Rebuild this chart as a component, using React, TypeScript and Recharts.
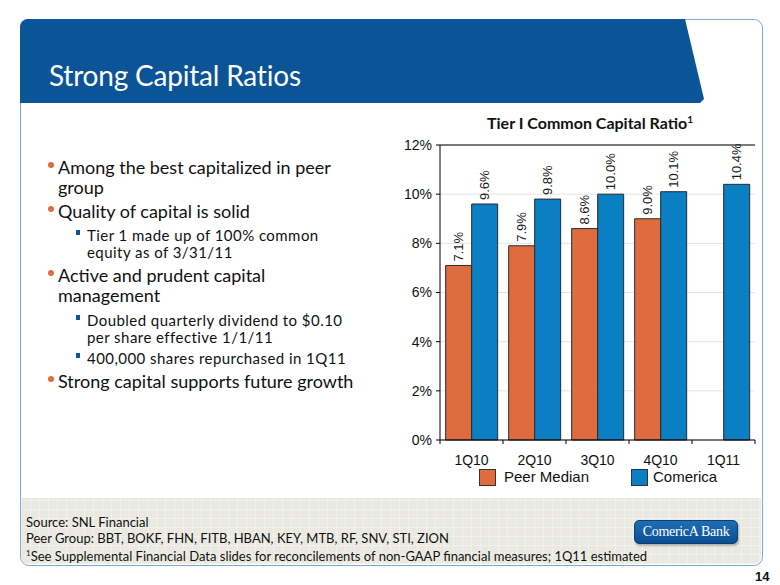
import React from "react";
import { BarChart, Bar, XAxis, YAxis, CartesianGrid, Legend, LabelList, ReferenceLine } from "recharts";

const QUARTERS = ["1Q10", "2Q10", "3Q10", "4Q10", "1Q11"];
const PEER_MEDIAN = [7.1, 7.9, 8.6, 9.0, null];
const COMERICA = [9.6, 9.8, 10.0, 10.1, 10.4];
const Y_TICKS = [0, 2, 4, 6, 8, 10, 12];

const PEER_COLOR = "#DF6C3E";
const COMERICA_COLOR = "#0A7FC3";

const data = QUARTERS.map((q, i) => ({ quarter: q, peer: PEER_MEDIAN[i], comerica: COMERICA[i] }));

// each bullet: level, first-line centre y, lines
const BULLETS = [
  { level: 0, top: 167, lines: ["Among the best capitalized in peer", "group"] },
  { level: 0, top: 211, lines: ["Quality of capital is solid"] },
  { level: 1, top: 235, lines: ["Tier 1 made up of 100% common", "equity as of 3/31/11"] },
  { level: 0, top: 275, lines: ["Active and prudent capital", "management"] },
  { level: 1, top: 320, lines: ["Doubled quarterly dividend to $0.10", "per share effective 1/1/11"] },
  { level: 1, top: 358, lines: ["400,000 shares repurchased in 1Q11"] },
  { level: 0, top: 381, lines: ["Strong capital supports future growth"] },
];

const FOOTNOTES = [
  "Source: SNL Financial",
  "Peer Group: BBT, BOKF, FHN, FITB, HBAN, KEY, MTB, RF, SNV, STI, ZION",
];

const valueLabel = (props: any) => {
  const { x, y, width, value } = props;
  if (value == null) return null;
  const cx = x + width / 2;
  const cy = y - 4;
  return (
    <text
      x={cx}
      y={cy}
      transform={`rotate(-90 ${cx} ${cy})`}
      textAnchor="start"
      dominantBaseline="central"
      fontSize={13}
      fontFamily="Arial, 'Liberation Sans', sans-serif"
      fill="#1a1a1a"
    >
      {Number(value).toFixed(1)}%
    </text>
  );
};

const XTick = (props: any) => {
  const { x, y, payload, index, visibleTicksCount } = props;
  const half = payload && payload.offset ? payload.offset : 31.5;
  return (
    <g>
      <line x1={x - half} x2={x - half} y1={y} y2={y + 4} stroke="#000" />
      {index === visibleTicksCount - 1 && (
        <line x1={x + half} x2={x + half} y1={y} y2={y + 4} stroke="#000" />
      )}
      <text
        x={x}
        y={y + 20}
        textAnchor="middle"
        dominantBaseline="central"
        fontSize={14}
        fontFamily="Arial, 'Liberation Sans', sans-serif"
        fill="#111"
      >
        {payload.value}
      </text>
    </g>
  );
};

const LegendBox = () => (
  <div style={{ position: "relative", height: 24, fontFamily: "Arial, 'Liberation Sans', sans-serif", fontSize: 15, color: "#111" }}>
    <span style={{ position: "absolute", left: 99, top: 3, width: 15, height: 15, background: PEER_COLOR, border: "1px solid #333" }} />
    <span style={{ position: "absolute", left: 124, top: 2, lineHeight: "18px" }}>Peer Median</span>
    <span style={{ position: "absolute", left: 251, top: 3, width: 15, height: 15, background: COMERICA_COLOR, border: "1px solid #333" }} />
    <span style={{ position: "absolute", left: 273, top: 2, lineHeight: "18px" }}>Comerica</span>
  </div>
);

export default function App() {
  const body = "Lato, 'Open Sans', sans-serif";
  const bulletEls: React.ReactNode[] = [];
  BULLETS.forEach((b, i) => {
    const main = b.level === 0;
    const size = main ? 18 : 15;
    const step = main ? 20 : 17;
    const left = main ? 58 : 87;
    b.lines.forEach((l, j) => {
      const cy = b.top + j * step;
      bulletEls.push(
        <div
          key={`${i}-${j}`}
          style={{
            position: "absolute",
            left,
            top: cy - 8,
            height: 16,
            fontSize: size,
            lineHeight: "16px",
            letterSpacing: main ? 0 : 0.45,
            color: "#111",
            whiteSpace: "nowrap",
          }}
        >
          {j === 0 &&
            (main ? (
              <span style={{ position: "absolute", left: -10, top: 3, width: 6, height: 6, borderRadius: 3, background: PEER_COLOR }} />
            ) : (
              <span style={{ position: "absolute", left: -11, top: 3, width: 4, height: 5, background: "#0B5497" }} />
            ))}
          {l}
        </div>
      );
    });
  });

  return (
    <div style={{ position: "fixed", left: 0, top: 0, width: 780, height: 585, background: "#fff", overflow: "hidden", fontFamily: body }}>
      <div style={{ position: "absolute", left: 20, top: 19, width: 741, height: 545, border: "1px solid #7FA8D3", borderRadius: 9, background: "#fff" }} />
      <div
        style={{
          position: "absolute",
          left: 21,
          top: 498,
          width: 740,
          height: 66,
          background: "#E9E9E1",
          backgroundImage:
            "repeating-linear-gradient(0deg, rgba(255,255,255,0.35) 0 1px, transparent 1px 9px), repeating-linear-gradient(90deg, rgba(255,255,255,0.35) 0 1px, transparent 1px 9px)",
          borderRadius: "0 0 8px 8px",
        }}
      />
      <div
        style={{
          position: "absolute",
          left: 20,
          top: 19,
          width: 684,
          height: 84,
          background: "#0B5497",
          clipPath: "polygon(0 0, 665px 0, 684px 80px, 680px 84px, 0 84px)",
          borderTopLeftRadius: 8,
        }}
      />
      <div style={{ position: "absolute", left: 49, top: 55, fontSize: 28, color: "#fff", fontFamily: body, lineHeight: "40px", letterSpacing: -0.2 }}>
        Strong Capital Ratios
      </div>

      {bulletEls}

      <div style={{ position: "absolute", left: 487, top: 113, fontSize: 16, fontWeight: 700, color: "#111", whiteSpace: "nowrap" }}>
        Tier I Common Capital Ratio<sup style={{ fontSize: 10 }}>1</sup>
      </div>

      <div style={{ position: "absolute", left: 380, top: 110 }}>
        <BarChart
          width={390}
          height={390}
          data={data}
          margin={{ top: 35, right: 15, left: 0, bottom: 10 }}
          barCategoryGap="9%"
          barGap={0}
        >
          <CartesianGrid horizontal vertical={false} stroke="#e4e4e4" />
          <XAxis
            dataKey="quarter"
            tick={<XTick />}
            tickLine={false}
            tickSize={0}
            tickMargin={0}
            axisLine={{ stroke: "#000" }}
            height={26}
            interval={0}
          />
          <YAxis
            domain={[0, 12]}
            ticks={Y_TICKS}
            tickFormatter={(v: number) => `${v}%`}
            width={60}
            tickSize={4}
            tickMargin={4}
            tickLine={{ stroke: "#000" }}
            axisLine={{ stroke: "#000" }}
            tick={{ fontSize: 14, fill: "#111", fontFamily: "Arial, 'Liberation Sans', sans-serif" }}
          />
          <YAxis yAxisId="right" orientation="right" domain={[0, 12]} tick={false} tickLine={false} width={0} axisLine={{ stroke: "#000" }} />
          <ReferenceLine y={12} stroke="#000" />
          <Legend verticalAlign="bottom" height={24} content={<LegendBox />} />
          <Bar dataKey="peer" name="Peer Median" fill={PEER_COLOR} stroke="#2a2a2a" strokeWidth={1} isAnimationActive={false}>
            <LabelList dataKey="peer" content={valueLabel} />
          </Bar>
          <Bar dataKey="comerica" name="Comerica" fill={COMERICA_COLOR} stroke="#2a2a2a" strokeWidth={1} isAnimationActive={false}>
            <LabelList dataKey="comerica" content={valueLabel} />
          </Bar>
        </BarChart>
      </div>

      {FOOTNOTES.map((t, i) => (
        <div key={i} style={{ position: "absolute", left: 26, top: 514 + i * 15.5, fontSize: 13, lineHeight: "17px", color: "#111" }}>
          {t}
        </div>
      ))}
      <div style={{ position: "absolute", left: 26, top: 545, fontSize: 13, lineHeight: "17px", color: "#111" }}>
        <sup style={{ fontSize: 8 }}>1</sup>See Supplemental Financial Data slides for reconcilements of non-GAAP financial measures; 1Q11 estimated
      </div>

      <div
        style={{
          position: "absolute",
          left: 634,
          top: 520,
          width: 102,
          height: 22,
          background: "linear-gradient(#1f6db3, #0b4f93)",
          border: "1px solid #0a3f78",
          borderRadius: 5,
          boxShadow: "1px 2px 2px rgba(0,0,0,0.25)",
          color: "#fff",
          fontFamily: "'Liberation Serif', 'DejaVu Serif', serif",
          fontSize: 14,
          lineHeight: "22px",
          textAlign: "center",
          whiteSpace: "nowrap",
          letterSpacing: -0.3,
        }}
      >
        ComericA Bank
      </div>
      <div style={{ position: "absolute", left: 755, top: 569, fontSize: 13, fontWeight: 700, fontFamily: "Arial, 'Liberation Sans', sans-serif", color: "#111" }}>
        14
      </div>
    </div>
  );
}
